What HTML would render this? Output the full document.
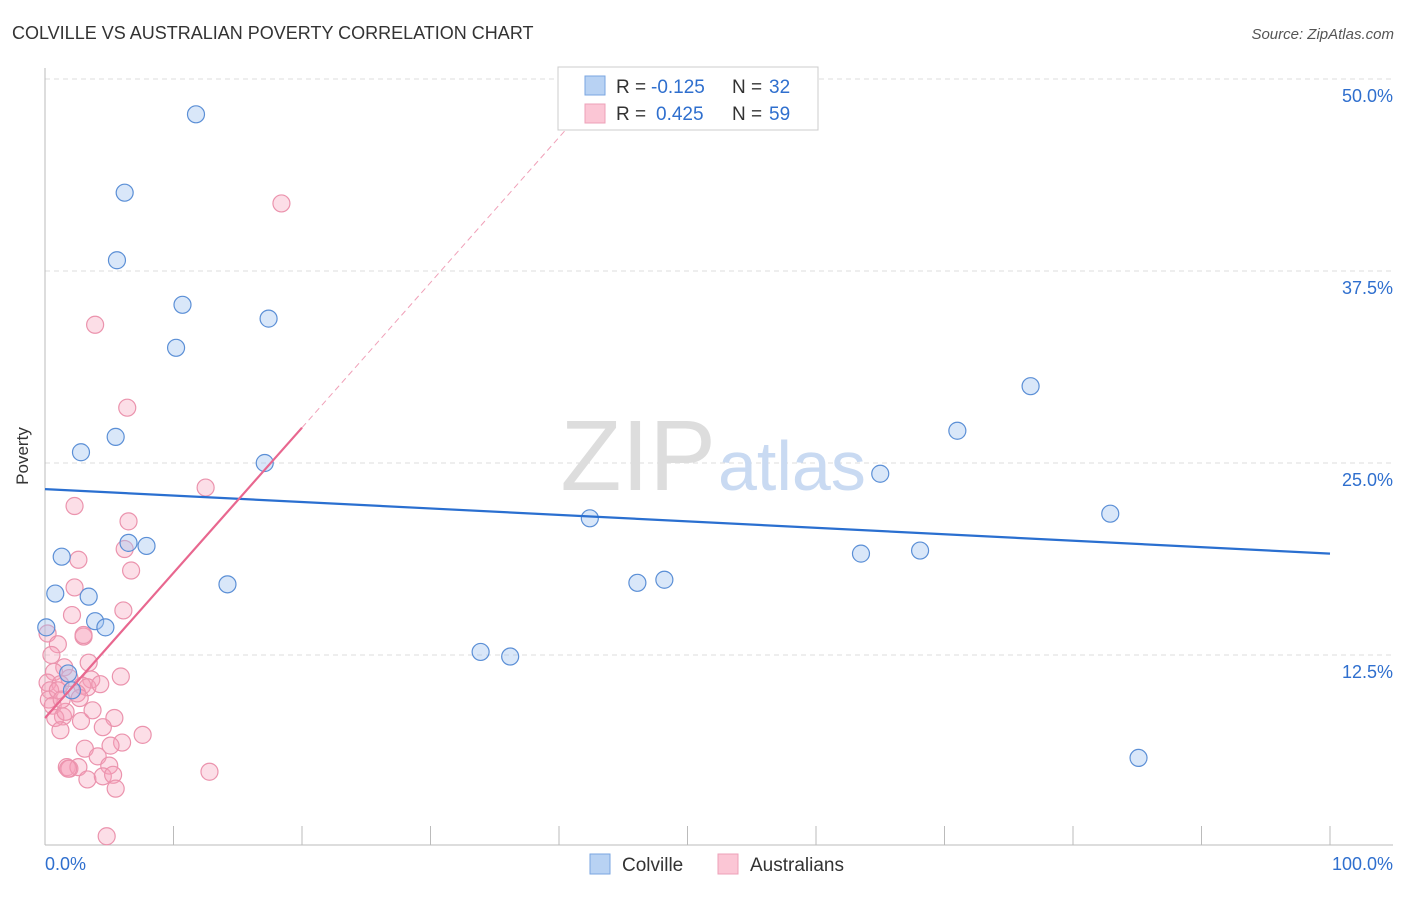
<!DOCTYPE html>
<html><head><meta charset="utf-8"><style>
body{margin:0;background:#fff;font-family:"Liberation Sans",sans-serif}
svg text{font-family:"Liberation Sans",sans-serif}
</style></head><body>
<svg width="1406" height="892">
<text x="12" y="39" font-size="18" fill="#333">COLVILLE VS AUSTRALIAN POVERTY CORRELATION CHART</text>
<text x="1394" y="39" font-size="15" fill="#555" font-style="italic" text-anchor="end">Source: ZipAtlas.com</text>
<g id="grid"></g>
<text x="716" y="490" font-size="100" fill="#ddd" text-anchor="end" font-family="Liberation Serif">ZIP</text>
<text x="718" y="490" font-size="70" fill="#c9daf2">atlas</text>
<text x="28" y="456" font-size="17" fill="#333" text-anchor="middle" transform="rotate(-90 28 456)">Poverty</text>
<g id="pts"></g>
<g id="lines"></g>
<g>
<rect x="558" y="67" width="260" height="63" fill="#fff" stroke="#ccc"/>
<rect x="585" y="76" width="20" height="19" fill="#b8d2f3" stroke="#7aa6e0"/>
<rect x="585" y="104" width="20" height="19" fill="#fbc6d5" stroke="#eea0b8"/>
<text x="616" y="93" font-size="19" fill="#333">R =</text>
<text x="651" y="93" font-size="19" fill="#2f6fce">-0.125</text>
<text x="732" y="93" font-size="19" fill="#333">N =</text>
<text x="769" y="93" font-size="19" fill="#2f6fce">32</text>
<text x="616" y="120" font-size="19" fill="#333">R =</text>
<text x="656" y="120" font-size="19" fill="#2f6fce">0.425</text>
<text x="732" y="120" font-size="19" fill="#333">N =</text>
<text x="769" y="120" font-size="19" fill="#2f6fce">59</text>
</g>
<g>
<rect x="590" y="854" width="20" height="20" fill="#b8d2f3" stroke="#7aa6e0"/>
<text x="622" y="871" font-size="19" fill="#333">Colville</text>
<rect x="718" y="854" width="20" height="20" fill="#fbc6d5" stroke="#eea0b8"/>
<text x="750" y="871" font-size="19" fill="#333">Australians</text>
</g>
<text x="45" y="870" font-size="18" fill="#2f6fce">0.0%</text>
<text x="1393" y="870" font-size="18" fill="#2f6fce" text-anchor="end">100.0%</text>
</svg>
<script>
const yTicks=[12.5,25,37.5,50];
const yTickLabels=["12.5%","25.0%","37.5%","50.0%"];
const blueX=[11.75,6.2,5.6,10.7,17.4,10.2,5.5,2.8,17.1,1.3,6.5,7.9,0.8,3.4,3.9,4.7,0.1,14.2,42.4,46.1,48.2,33.9,36.2,63.5,68.1,65.0,71.0,76.7,82.9,85.1,1.8,2.1];
const blueY=[47.7,42.6,38.2,35.3,34.4,32.5,26.7,25.7,25.0,18.9,19.8,19.6,16.5,16.3,14.7,14.3,14.3,17.1,21.4,17.2,17.4,12.7,12.4,19.1,19.3,24.3,27.1,30.0,21.7,5.8,11.3,10.2];
const pinkX=[18.4,3.9,6.4,12.5,2.3,6.5,6.2,2.6,6.7,2.3,6.1,2.1,3.0,0.2,1.0,3.4,1.5,0.7,5.9,1.9,3.6,0.2,1.2,2.9,3.3,0.4,2.5,0.3,2.7,0.6,1.4,0.8,2.8,5.4,1.2,4.5,7.6,6.0,3.1,4.1,1.7,1.9,2.6,5.0,3.3,4.5,5.3,12.8,5.5,4.8,1.8,3.0,1.6,3.7,1.0,4.3,1.3,5.1,0.5];
const pinkY=[41.9,34.0,28.6,23.4,22.2,21.2,19.4,18.7,18.0,16.9,15.4,15.1,13.7,13.9,13.2,12.0,11.7,11.4,11.1,11.0,10.9,10.7,10.6,10.5,10.4,10.2,10.0,9.6,9.7,9.2,8.5,8.4,8.2,8.4,7.6,7.8,7.3,6.8,6.4,5.9,5.2,5.1,5.2,5.3,4.4,4.6,4.7,4.9,3.8,0.7,5.1,13.8,8.8,8.9,10.2,10.6,9.6,6.6,12.5];
const blueLine=[23.3,19.1];
const pinkLine=[8.4,27.3];
const NS="http://www.w3.org/2000/svg";
const sx=v=>45+v*12.85, sy=v=>847-v*15.36;
function mk(t,a,p){const e=document.createElementNS(NS,t);for(const k in a)e.setAttribute(k,a[k]);p.appendChild(e);return e;}
const g=document.getElementById('grid');
yTicks.forEach((t,i)=>{
 const l=mk('line',{x1:45,x2:1393,y1:sy(t),y2:sy(t),stroke:'#ddd','stroke-dasharray':'5,4'},g);
 
 
 const tx=mk('text',{x:1393,y:sy(t)+23,'font-size':18,fill:'#2f6fce','text-anchor':'end'},g);
 tx.textContent=yTickLabels[i];
 
 
});
const ax=mk('line',{x1:45,x2:1393,y1:845,y2:845,stroke:'#bbb'},g);


const ay=mk('line',{x1:45,x2:45,y1:68,y2:845,stroke:'#bbb'},g);


for(let i=0;i<=10;i++){const t=mk('line',{x1:sx(i*10),x2:sx(i*10),y1:826,y2:845,stroke:'#bbb'},g);
 
 }
const p=document.getElementById('pts');
pinkX.forEach((x,i)=>{const c=mk('circle',{cx:sx(x),cy:sy(pinkY[i]),r:8.5,fill:'rgba(245,160,185,0.35)',stroke:'#eb93ad','stroke-width':1.2},p);
 
 });
blueX.forEach((x,i)=>{const c=mk('circle',{cx:sx(x),cy:sy(blueY[i]),r:8.5,fill:'rgba(160,195,240,0.4)',stroke:'#5b8fd6','stroke-width':1.2},p);
 
 });
const L=document.getElementById('lines');
const bl=mk('line',{x1:sx(0),y1:sy(blueLine[0]),x2:sx(100),y2:sy(blueLine[1]),stroke:'#2a6fd0','stroke-width':2.2},L);


const slope=(pinkLine[1]-pinkLine[0])/20;
const pd=mk('line',{x1:sx(20),y1:sy(pinkLine[1]),x2:sx(41),y2:sy(pinkLine[0]+slope*41),stroke:'#f0a0b8','stroke-width':1,'stroke-dasharray':'6,4'},L);


const pl=mk('line',{x1:sx(0),y1:sy(pinkLine[0]),x2:sx(20),y2:sy(pinkLine[1]),stroke:'#e8678f','stroke-width':2.2},L);


</script>
</body></html>
